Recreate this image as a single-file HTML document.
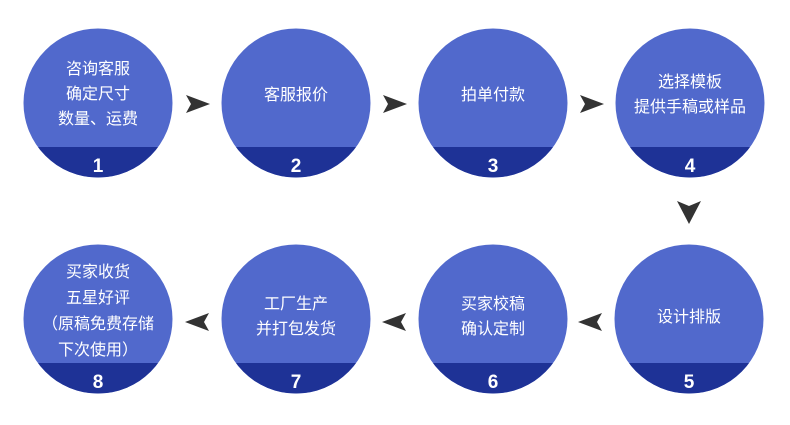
<!DOCTYPE html>
<html><head><meta charset="utf-8"><style>
body{margin:0;width:790px;height:420px;background:#fff;overflow:hidden}
</style></head><body>
<svg width="790" height="420" viewBox="0 0 790 420" xmlns="http://www.w3.org/2000/svg">
<defs>
<clipPath id="c1"><circle cx="98" cy="103" r="74.5"/></clipPath>
<clipPath id="c2"><circle cx="296" cy="103" r="74.5"/></clipPath>
<clipPath id="c3"><circle cx="493" cy="103" r="74.5"/></clipPath>
<clipPath id="c4"><circle cx="690" cy="103" r="74.5"/></clipPath>
<clipPath id="c5"><circle cx="689" cy="319" r="74.5"/></clipPath>
<clipPath id="c6"><circle cx="493" cy="319" r="74.5"/></clipPath>
<clipPath id="c7"><circle cx="296" cy="319" r="74.5"/></clipPath>
<clipPath id="c8"><circle cx="98" cy="319" r="74.5"/></clipPath>
</defs>
<g font-family="Liberation Sans, Noto Sans CJK SC, sans-serif" fill="#fff" text-anchor="middle">
<g clip-path="url(#c1)"><rect x="0" y="0" width="790" height="420" fill="#5169cc"/><rect x="0" y="147" width="790" height="40" fill="#1e3296"/></g>
<g clip-path="url(#c2)"><rect x="0" y="0" width="790" height="420" fill="#5169cc"/><rect x="0" y="147" width="790" height="40" fill="#1e3296"/></g>
<g clip-path="url(#c3)"><rect x="0" y="0" width="790" height="420" fill="#5169cc"/><rect x="0" y="147" width="790" height="40" fill="#1e3296"/></g>
<g clip-path="url(#c4)"><rect x="0" y="0" width="790" height="420" fill="#5169cc"/><rect x="0" y="147" width="790" height="40" fill="#1e3296"/></g>
<g clip-path="url(#c5)"><rect x="0" y="0" width="790" height="420" fill="#5169cc"/><rect x="0" y="363" width="790" height="40" fill="#1e3296"/></g>
<g clip-path="url(#c6)"><rect x="0" y="0" width="790" height="420" fill="#5169cc"/><rect x="0" y="363" width="790" height="40" fill="#1e3296"/></g>
<g clip-path="url(#c7)"><rect x="0" y="0" width="790" height="420" fill="#5169cc"/><rect x="0" y="363" width="790" height="40" fill="#1e3296"/></g>
<g clip-path="url(#c8)"><rect x="0" y="0" width="790" height="420" fill="#5169cc"/><rect x="0" y="363" width="790" height="40" fill="#1e3296"/></g>
<g font-size="16">
<text x="98" y="74">咨询客服</text><text x="98" y="99">确定尺寸</text><text x="98" y="124">数量、运费</text>
<text x="296" y="100">客服报价</text>
<text x="493" y="100">拍单付款</text>
<text x="690" y="87">选择模板</text><text x="690" y="112">提供手稿或样品</text>
<text x="689" y="322">设计排版</text>
<text x="493" y="309">买家校稿</text><text x="493" y="334">确认定制</text>
<text x="296" y="309">工厂生产</text><text x="296" y="334">并打包发货</text>
<text x="98" y="277">买家收货</text><text x="98" y="303">五星好评</text><text x="98" y="329">（原稿免费存储</text><text x="98" y="355">下次使用）</text>
</g>
<g font-size="19" font-weight="bold">
<text x="98" y="172">1</text><text x="296" y="172">2</text><text x="493" y="172">3</text><text x="690" y="172">4</text>
<text x="689" y="388">5</text><text x="493" y="388">6</text><text x="296" y="388">7</text><text x="98" y="388">8</text>
</g>
</g>
<g fill="#333">
<path d="M186,95 L210,104 L186,113 L191,104Z"/>
<path d="M383,95 L407,104 L383,113 L388,104Z"/>
<path d="M580,95 L604,104 L580,113 L585,104Z"/>
<path d="M677,201 L689,224 L701,201 L689,206Z"/>
<path d="M602,313 L578,322 L602,331 L597,322Z"/>
<path d="M406,313 L382,322 L406,331 L401,322Z"/>
<path d="M209,313 L185,322 L209,331 L204,322Z"/>
</g>
</svg>
</body></html>
